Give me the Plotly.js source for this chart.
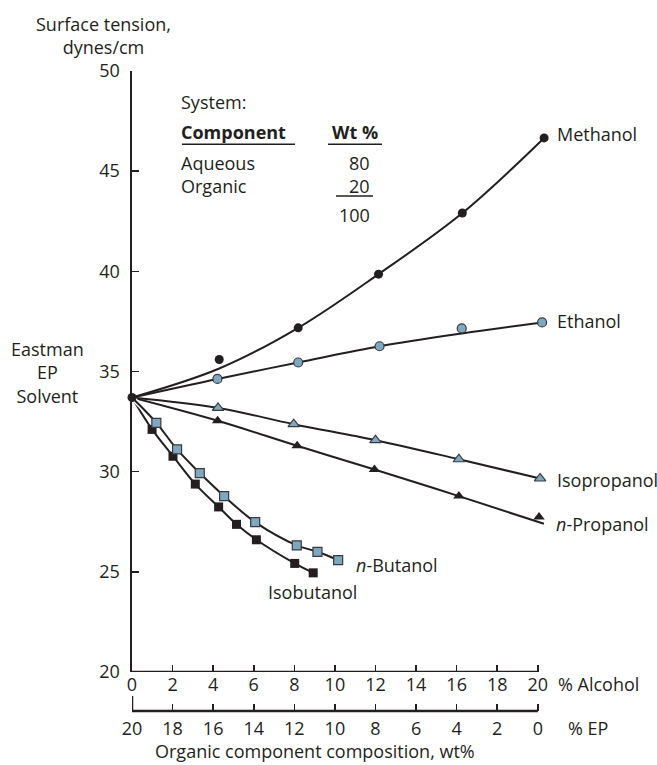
<!DOCTYPE html>
<html><head><meta charset="utf-8">
<script src="https://cdn.plot.ly/plotly-3.0.1.min.js"></script>
<style>html,body{margin:0;padding:0;background:#fff}#chart{width:657px;height:765px}</style>
</head><body><div id="chart"></div>
<script>
// ---- data ----
const alcoholTicks = [0, 2, 4, 6, 8, 10, 12, 14, 16, 18, 20];
const epTicks = [20, 18, 16, 14, 12, 10, 8, 6, 4, 2, 0];
const tensionTicks = [20, 25, 30, 35, 40, 45, 50];

const solventX = [0];
const solventY = [33.7];

const methanolX = [4.3, 8.19, 12.15, 16.28, 20.31];
const methanolY = [35.6, 37.18, 39.86, 42.91, 46.66];
const methanolCurveX = [0, 4.3, 8.19, 12.15, 16.28, 20.31];
const methanolCurveY = [33.7, 35.15, 37.18, 39.86, 42.91, 46.66];

const ethanolX = [4.21, 8.19, 12.2, 16.25, 20.21];
const ethanolY = [34.63, 35.45, 36.26, 37.15, 37.45];
const ethanolCurveX = [0, 4.21, 8.19, 12.2, 16.25, 20.21];
const ethanolCurveY = [33.7, 34.63, 35.45, 36.26, 36.9, 37.45];

const isopropanolX = [4.24, 7.97, 12.0, 16.11, 20.11];
const isopropanolY = [33.18, 32.37, 31.57, 30.62, 29.66];
const isopropanolCurveX = [0, 4.24, 7.97, 12.0, 16.11, 20.11];
const isopropanolCurveY = [33.7, 33.18, 32.37, 31.57, 30.62, 29.66];

const propanolX = [4.22, 8.14, 11.95, 16.11, 20.06];
const propanolY = [32.54, 31.29, 30.11, 28.78, 27.74];
const propanolCurveX = [0, 4.22, 8.14, 11.95, 16.11, 20.3];
const propanolCurveY = [33.7, 32.54, 31.29, 30.11, 28.78, 27.4];

const butanolX = [1.2, 2.22, 3.34, 4.54, 6.07, 8.12, 9.14, 10.16];
const butanolY = [32.44, 31.11, 29.93, 28.78, 27.48, 26.32, 26.0, 25.58];
const butanolCurveX = [0, 1.2, 2.22, 3.34, 4.54, 6.07, 8.12, 9.14, 10.16];
const butanolCurveY = [33.7, 32.44, 31.11, 29.93, 28.78, 27.48, 26.32, 26.0, 25.58];

const isobutanolX = [0.99, 2.02, 3.12, 4.27, 5.15, 6.13, 8.02, 8.93];
const isobutanolY = [32.11, 30.77, 29.38, 28.24, 27.37, 26.6, 25.42, 24.95];
const isobutanolCurveX = [0, 0.99, 2.02, 3.12, 4.27, 5.15, 6.13, 8.02, 8.93];
const isobutanolCurveY = [33.7, 32.11, 30.77, 29.38, 28.24, 27.37, 26.6, 25.42, 24.95];

// ---- styling ----
const INK = '#231f20';
const BLUE = '#7ea7c2';
const FONT = 'Open Sans, Noto Sans, sans-serif';
const FS = 18;
const W = 657, H = 765;
const M = {l: 132, r: 107, t: 71, b: 54};
const PW = W - M.l - M.r, PH = H - M.t - M.b;
const px = x => (x - M.l) / PW;
const py = y => (H - M.b - y) / PH;

function curve(x, y, white) {
  return {x, y, mode: 'lines', type: 'scatter', hoverinfo: 'skip', showlegend: false,
    line: {color: white ? '#fff' : INK, width: white ? 5 : 2, shape: 'spline', smoothing: 1}};
}
function pts(x, y, symbol, fill, size) {
  return {x, y, mode: 'markers', type: 'scatter', cliponaxis: false, showlegend: false,
    marker: {symbol, size, color: fill, line: {color: fill === BLUE ? '#3a3a3a' : INK, width: fill === BLUE ? 1.2 : 0}}};
}

const traces = [
  curve(methanolCurveX, methanolCurveY),
  curve(ethanolCurveX, ethanolCurveY),
  curve(isopropanolCurveX, isopropanolCurveY),
  curve(propanolCurveX, propanolCurveY),
  curve(isobutanolCurveX, isobutanolCurveY, true),
  curve(isobutanolCurveX, isobutanolCurveY),
  curve(butanolCurveX, butanolCurveY, true),
  curve(butanolCurveX, butanolCurveY),
  pts(methanolX, methanolY, 'circle', INK, 9),
  pts(ethanolX, ethanolY, 'circle', BLUE, 9),
  pts(isopropanolX, isopropanolY, 'triangle-up', BLUE, 10),
  pts(propanolX, propanolY, 'triangle-up', INK, 10),
  pts(isobutanolX, isobutanolY, 'square', INK, 9),
  pts(butanolX, butanolY, 'square', BLUE, 9),
  pts(solventX, solventY, 'circle', INK, 9),
  {x: epTicks, y: epTicks.map(() => null), xaxis: 'x2', yaxis: 'y', mode: 'markers', showlegend: false, hoverinfo: 'skip'}
];

function ann(text, x, y, xanchor, extra) {
  return Object.assign({text, x: px(x), y: py(y), xref: 'paper', yref: 'paper',
    xanchor, yanchor: 'middle', showarrow: false, font: {family: FONT, size: FS, color: INK}}, extra || {});
}

const annotations = [
  ann('Surface tension,<br>dynes/cm', 103, 35, 'center'),
  ann('Eastman<br>EP<br>Solvent', 47.5, 372, 'center'),
  ann('System:', 179, 101.7, 'left'),
  ann('<b>Component</b>', 179, 131.7, 'left'),
  ann('<b>Wt %</b>', 330, 131.7, 'left'),
  ann('Aqueous', 179, 162.7, 'left'),
  ann('Organic', 179, 186, 'left'),
  ann('80', 372, 162.7, 'right'),
  ann('20', 372, 186, 'right'),
  ann('100', 372, 215, 'right'),
  ann('Methanol', 555, 134, 'left'),
  ann('Ethanol', 555, 320.7, 'left'),
  ann('Isopropanol', 555, 480, 'left'),
  ann('<i>n</i>-Propanol', 554, 524, 'left'),
  ann('<i>n</i>-Butanol', 354, 565, 'left'),
  ann('Isobutanol', 266, 591.7, 'left'),
  ann('% Alcohol', 556, 684, 'left'),
  ann('% EP', 566, 728, 'left'),
  ann('Organic component composition, wt%', 315, 751, 'center')
];

const shapes = [
  {type: 'line', xref: 'x', yref: 'y', x0: 0, x1: 20, y0: 20, y1: 20, line: {color: INK, width: 2.5}},
  {type: 'line', xref: 'x', yref: 'paper', x0: 0, x1: 20, y0: 0, y1: 0, line: {color: INK, width: 2.5}},
  {type: 'line', xref: 'x', yref: 'paper', x0: 0, x1: 0, y0: 0, y1: 15 / PH, line: {color: INK, width: 2.5}},
  {type: 'line', xref: 'paper', yref: 'paper', x0: px(182), x1: px(295), y0: py(144.3), y1: py(144.3), line: {color: INK, width: 1.5}},
  {type: 'line', xref: 'paper', yref: 'paper', x0: px(328), x1: px(382), y0: py(144.3), y1: py(144.3), line: {color: INK, width: 1.5}},
  {type: 'line', xref: 'paper', yref: 'paper', x0: px(336), x1: px(373), y0: py(196), y1: py(196), line: {color: INK, width: 1.5}}
];

const tickFont = {family: FONT, size: FS, color: INK};
const layout = {
  width: W, height: H, margin: M,
  paper_bgcolor: '#fff', plot_bgcolor: '#fff',
  showlegend: false,
  xaxis: {range: [0, 20.6], tickvals: alcoholTicks, ticktext: alcoholTicks.map(String),
    ticks: 'inside', ticklen: 7, tickwidth: 1.5, tickcolor: INK, showline: false,
    showgrid: false, zeroline: false, anchor: 'y', tickfont: tickFont, fixedrange: true},
  xaxis2: {range: [20, -0.6], overlaying: 'x', anchor: 'free', position: 0, side: 'bottom',
    tickvals: epTicks, ticktext: epTicks.map(String),
    ticks: 'inside', ticklen: 7, tickwidth: 1.5, tickcolor: INK, showline: false,
    showgrid: false, zeroline: false, tickfont: tickFont, ticklabelstandoff: 5, fixedrange: true},
  yaxis: {range: [20, 50], domain: [39 / PH, 1], tickvals: tensionTicks, ticktext: tensionTicks.map(String),
    ticks: 'inside', ticklen: 7, tickwidth: 1.5, tickcolor: INK,
    showline: true, linewidth: 2.5, linecolor: INK, showgrid: false, zeroline: false,
    tickfont: tickFont, ticklabelstandoff: 6, fixedrange: true},
  annotations, shapes
};

Plotly.newPlot('chart', traces, layout, {displayModeBar: false, staticPlot: true});
</script></body></html>
